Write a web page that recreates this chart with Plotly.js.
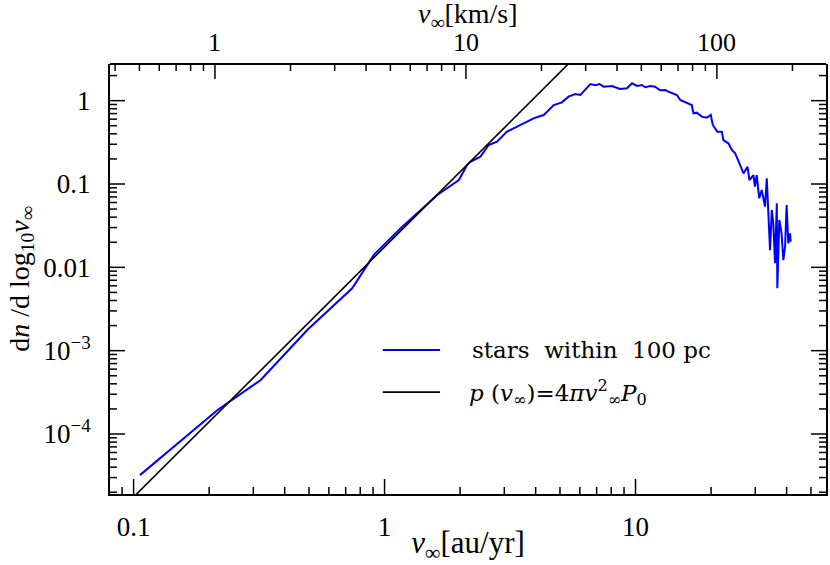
<!DOCTYPE html>
<html>
<head>
<meta charset="utf-8">
<script src="https://cdn.plot.ly/plotly-3.0.1.min.js"></script>
<style>html,body{margin:0;padding:0;background:#fff;}#plot{width:830px;height:565px;}</style>
</head>
<body>
<div id="plot"></div>
<script>
// Observed distribution: stars within 100 pc (v in au/yr, dn/dlog10 v)
var starsV = [0.106, 0.216, 0.321, 0.492, 0.743, 0.906, 1.159, 1.622, 1.977,
  2.133, 2.198, 2.410, 2.600, 2.805, 3.076, 3.475, 3.926, 4.18, 4.31,
  4.72, 5.09, 5.41, 5.75, 6.03, 6.61, 6.92, 7.19, 7.46, 8.05,
  8.69, 9.25, 9.68, 10.14, 10.59, 10.94, 11.43, 11.97, 12.53, 13.12,
  13.52, 14.16, 14.62, 15.07, 15.31, 15.78, 16.75, 17.02, 17.54, 18.37,
  19.23, 19.95, 20.32, 21.18, 22.08, 22.39, 23.44, 24.21, 24.95, 26.12,
  26.92, 27.93, 28.44, 29.51, 29.92, 30.41, 31.12, 31.84, 32.81, 33.34,
  33.81, 34.36, 34.91, 35.40, 35.97, 36.56, 36.73, 37.41, 38.19, 38.81,
  39.45, 40.0, 40.64, 41.30, 41.50];
var starsDn = [3.21e-5, 1.94e-4, 4.44e-4, 1.77e-3, 5.60e-3, 0.0141, 0.0295, 0.0738, 0.1117,
  0.169, 0.185, 0.213, 0.294, 0.322, 0.425, 0.511, 0.614, 0.655, 0.673,
  0.887, 0.955, 1.117, 1.202, 1.169, 1.585, 1.531, 1.585, 1.472, 1.500,
  1.380, 1.409, 1.618, 1.500, 1.542, 1.449, 1.500, 1.472, 1.330, 1.343,
  1.282, 1.202, 1.169, 1.019, 1.0, 0.946, 0.887, 0.706, 0.718, 0.643,
  0.625, 0.673, 0.511, 0.425, 0.425, 0.337, 0.308, 0.256, 0.233, 0.169,
  0.134, 0.161, 0.1117, 0.128, 0.0929, 0.128, 0.0673, 0.0847, 0.0535, 0.117,
  0.0445, 0.0161, 0.0488, 0.0337, 0.0112, 0.0586, 0.0056, 0.0370, 0.0256, 0.0122,
  0.0177, 0.0560, 0.0194, 0.0256, 0.0203];
// Model p(v) = 4 pi v^2 P0 : straight line in log-log, endpoints
var modelV = [0.1, 6.0];
var modelDn = [1.754e-5, 3.79];
// tick labels
var yLabelAlias = {'0.0001': '10<sup>−4</sup>', '100µ': '10<sup>−4</sup>', '100μ': '10<sup>−4</sup>',
  '0.001': '10<sup>−3</sup>', '1m': '10<sup>−3</sup>', '10m': '0.01', '100m': '0.1'};
var topTickKmS = [1, 10, 100];
var topTickText = ['1', '10', '100'];
var legendLabels = ['stars  within  100 pc', '<i>p</i> (<i>v</i><sub>∞</sub>)=4<i>πv</i><sup>2</sup><sub>∞</sub><i>P</i><sub>0</sub>'];
var auPerYrToKmS = 4.74;

var serif = 'Liberation Serif, Times New Roman, serif';
var legendFont = 'DejaVu Serif, serif';
var xr = [-1.094, 1.759];
var xr2 = [xr[0] + Math.log10(auPerYrToKmS), xr[1] + Math.log10(auPerYrToKmS)];
var yr = [-4.72, 0.44];

var W = 830 - 110 - 4, H = 565 - 64 - 71;
var MAJ = 15, MIN = 7;

function logTickShapes(range, side) {
  var out = [];
  for (var n = Math.floor(range[0]); n <= Math.ceil(range[1]); n++) {
    for (var k = 1; k <= 9; k++) {
      var L = n + Math.log10(k);
      if (L < range[0] || L > range[1]) continue;
      var f = (L - range[0]) / (range[1] - range[0]);
      var len = (k === 1) ? MAJ : MIN;
      var s = {type: 'line', xref: 'paper', yref: 'paper', line: {color: '#000000', width: 1.5}};
      if (side === 'bottom') { s.x0 = f; s.x1 = f; s.y0 = 0; s.y1 = len / H; }
      else if (side === 'top') { s.x0 = f; s.x1 = f; s.y0 = 1; s.y1 = 1 - len / H; }
      else if (side === 'left') { s.y0 = f; s.y1 = f; s.x0 = 0; s.x1 = len / W; }
      else { s.y0 = f; s.y1 = f; s.x0 = 1; s.x1 = 1 - len / W; }
      out.push(s);
    }
  }
  return out;
}

var traces = [
  {x: starsV, y: starsDn, type: 'scatter', mode: 'lines', line: {color: '#0000ff', width: 2}, showlegend: false, hoverinfo: 'none'},
  {x: modelV, y: modelDn, type: 'scatter', mode: 'lines', line: {color: '#000000', width: 1.6}, showlegend: false, hoverinfo: 'none'}
];

var legendShapes = [
  {type: 'line', xref: 'paper', yref: 'paper', x0: 0.381, x1: 0.461, y0: 0.335, y1: 0.335, line: {color: '#0000ff', width: 2}},
  {type: 'line', xref: 'paper', yref: 'paper', x0: 0.381, x1: 0.461, y0: 0.237, y1: 0.237, line: {color: '#000', width: 1.6}}
];
var topFrame = [{type: 'line', xref: 'paper', yref: 'paper', x0: 0, x1: 1, y0: 1, y1: 1, line: {color: '#000', width: 2}}];

var annotations = [
  {xref: 'paper', yref: 'paper', x: 0.503, y: 0.335, xanchor: 'left', yanchor: 'middle', text: legendLabels[0], showarrow: false, font: {family: legendFont, size: 23}},
  {xref: 'paper', yref: 'paper', x: 0.499, y: 0.237, xanchor: 'left', yanchor: 'middle', text: legendLabels[1], showarrow: false, font: {family: legendFont, size: 23}},
  {xref: 'paper', yref: 'paper', x: 0.5, y: 1, yshift: 49, xanchor: 'center', yanchor: 'middle', text: '<i>v</i><sub>∞</sub>[km/s]', showarrow: false, font: {family: serif, size: 28}}
];
topTickKmS.forEach(function(v, i) {
  annotations.push({xref: 'paper', yref: 'paper', x: (Math.log10(v) - xr2[0]) / (xr2[1] - xr2[0]), y: 1, yshift: 22,
    xanchor: 'center', yanchor: 'middle', text: topTickText[i], showarrow: false, font: {family: serif, size: 26}});
});

var layout = {
  width: 830, height: 565,
  margin: {l: 110, r: 4, t: 64, b: 71, pad: 0},
  font: {family: serif, size: 27, color: '#000'},
  showlegend: false,
  xaxis: {
    type: 'log', range: xr, showgrid: false, zeroline: false,
    showline: true, linewidth: 2, linecolor: '#000', mirror: false,
    ticks: '', dtick: 1, ticklabelstandoff: 8, tickfont: {family: serif, size: 27},
    title: {text: '<i>v</i><sub>∞</sub>[au/yr]', font: {family: serif, size: 31}, standoff: 0},
    automargin: false
  },
  yaxis: {
    type: 'log', range: yr, showgrid: false, zeroline: false,
    showline: true, linewidth: 2, linecolor: '#000', mirror: true,
    ticks: '', dtick: 1, exponentformat: 'none', labelalias: yLabelAlias, ticklabelstandoff: 12,
    tickfont: {family: serif, size: 27},
    title: {text: 'd<i>n</i> /d log<sub>10</sub><i>v</i><sub>∞</sub>', font: {family: serif, size: 28}, standoff: 6},
    automargin: false
  },
  shapes: [].concat(
    logTickShapes(xr, 'bottom'), logTickShapes(xr2, 'top'),
    logTickShapes(yr, 'left'), logTickShapes(yr, 'right'),
    topFrame, legendShapes),
  annotations: annotations
};

Plotly.newPlot('plot', traces, layout, {staticPlot: true, displayModeBar: false});
</script>
</body>
</html>
